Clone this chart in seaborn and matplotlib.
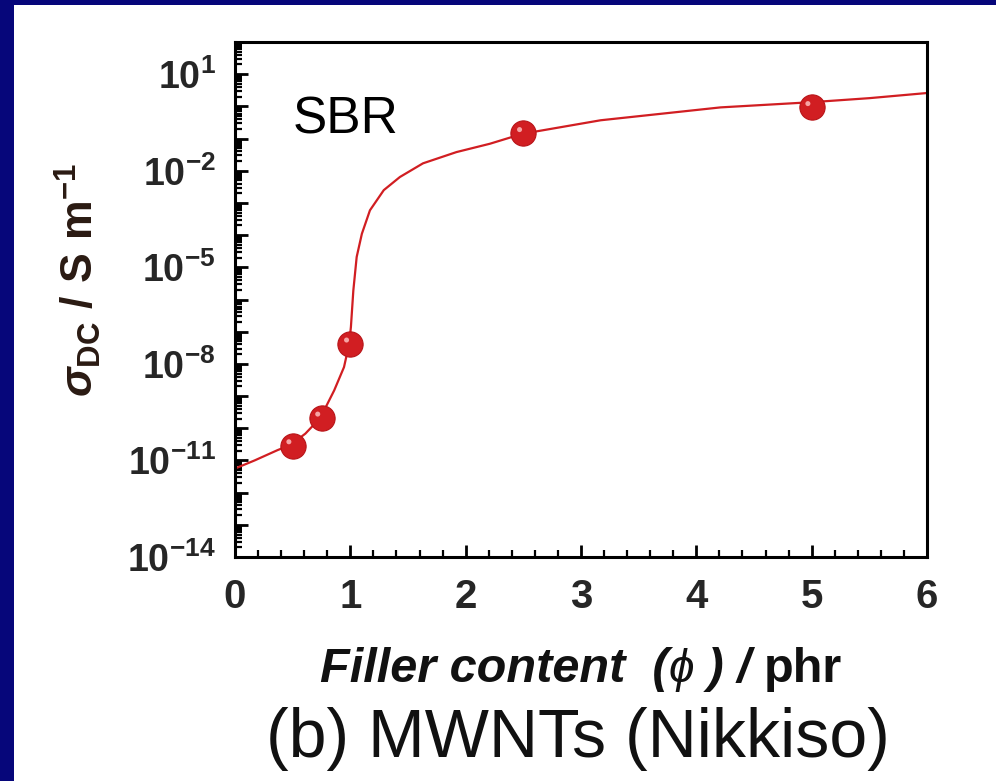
import matplotlib
matplotlib.use("Agg")
import matplotlib.pyplot as plt
import seaborn as sns
import pandas as pd
import numpy as np
from matplotlib.ticker import LogLocator, FuncFormatter, MultipleLocator, NullFormatter
from matplotlib.patches import Rectangle
from matplotlib.path import Path
from matplotlib.offsetbox import TextArea, HPacker, AnnotationBbox

# Dados
teor_pontos = [0.5, 0.75, 1.0, 2.5, 5.0]
sigma_pontos = [2.9e-11, 2.1e-10, 4.2e-8, 0.145, 0.93]

teor_curva = [0.0, 0.17, 0.37, 0.48, 0.61, 0.74, 0.86, 0.945, 0.99, 1.005,
              1.026, 1.055, 1.1, 1.17, 1.29, 1.43, 1.63, 1.92, 2.21, 2.49,
              3.17, 4.21, 5.0, 5.5, 6.0]
sigma_curva = [5.6e-12, 1.0e-11, 2.1e-11, 3.0e-11, 6.8e-11, 2.1e-10, 1.5e-9,
               7.9e-9, 4.2e-8, 1.4e-7, 1.9e-6, 2.1e-5, 1.1e-4, 5.9e-4, 2.5e-3,
               6.4e-3, 1.7e-2, 3.8e-2, 6.9e-2, 0.14, 0.37, 0.93, 1.35, 1.8, 2.6]

xticks = [0, 1, 2, 3, 4, 5, 6]

df_pontos = pd.DataFrame({"teor": teor_pontos, "sigma": sigma_pontos})
df_curva = pd.DataFrame({"teor": teor_curva, "sigma": sigma_curva})

sns.set_theme(style="ticks")
plt.rcParams["font.family"] = ["Liberation Sans", "DejaVu Sans"]
plt.rcParams["mathtext.fontset"] = "custom"
plt.rcParams["mathtext.rm"] = "Liberation Sans"
plt.rcParams["mathtext.it"] = "Liberation Sans:italic:bold"
plt.rcParams["mathtext.bf"] = "Liberation Sans:bold"

vermelho = "#d11e22"

fig = plt.figure(figsize=(9.96, 7.81), dpi=100, facecolor="#06067a")
# painel branco
fig.patches.append(Rectangle((14 / 996, 0), 1, 1 - 5 / 781, transform=fig.transFigure,
                             facecolor="white", edgecolor="none", zorder=-5))

ax = fig.add_axes([235 / 996, 1 - 557 / 781, (927 - 235) / 996, (557 - 42) / 781])
ax.set_zorder(1)
ax.set_facecolor("white")

sns.lineplot(data=df_curva, x="teor", y="sigma", ax=ax, color=vermelho, linewidth=1.6,
             sort=False, zorder=2)
tam = 330
sns.scatterplot(data=df_pontos, x="teor", y="sigma", ax=ax, color=vermelho, s=tam,
                edgecolor="#b81418", linewidth=0.8, zorder=3)
# brilho das esferas
brilho = Path.circle(center=(-0.6, 0.6), radius=0.4)
sns.scatterplot(data=df_pontos, x="teor", y="sigma", ax=ax, color="#f6a4a4", s=tam / 4,
                marker=brilho, edgecolor="none", zorder=4)

ax.set_yscale("log")
ax.set_xlim(0, 6)
ax.set_ylim(1e-14, 1e2)

ax.set_xticks(xticks)
ax.xaxis.set_minor_locator(MultipleLocator(0.2))
ax.yaxis.set_major_locator(LogLocator(base=10, numticks=40))
ax.yaxis.set_minor_locator(LogLocator(base=10, subs=np.arange(2, 10), numticks=40))
ax.yaxis.set_minor_formatter(NullFormatter())


def formata_y(v, pos):
    expo = int(round(np.log10(v)))
    if expo % 3 == 1:
        return r"$\mathbf{10^{%d}}$" % expo
    return ""


ax.yaxis.set_major_formatter(FuncFormatter(formata_y))

ax.tick_params(axis="both", which="major", direction="in", length=9, width=2,
               color="black", top=False, right=False)
ax.tick_params(axis="both", which="minor", direction="in", length=5, width=1.6,
               color="black", top=False, right=False)
ax.tick_params(axis="y", which="major", labelsize=27, pad=14)
ax.tick_params(axis="x", which="major", labelsize=29, pad=15)
for lbl in ax.get_xticklabels():
    lbl.set_fontweight("bold")

for s in ax.spines.values():
    s.set_linewidth(2.2)
    s.set_color("black")

ax.set_xlabel("")
ax.set_ylabel("")

# Textos
ax.text(293 / 996, 1 - 133 / 781, "SBR", transform=fig.transFigure, fontsize=37,
        color="black", ha="left", va="baseline")

cor_txt = "#111111"
partes = [
    TextArea("Filler content  (", textprops=dict(fontsize=35, style="italic", weight="bold", color=cor_txt)),
    TextArea("\u03d5", textprops=dict(fontsize=33, style="italic", weight="normal", color=cor_txt)),
    TextArea(" ) / ", textprops=dict(fontsize=35, style="italic", weight="bold", color=cor_txt)),
    TextArea("phr", textprops=dict(fontsize=35, weight="bold", color=cor_txt)),
]
caixa = HPacker(children=partes, align="baseline", pad=0, sep=0)
rotulo_x = AnnotationBbox(caixa, (581 / 996, 1 - 669 / 781), xycoords="figure fraction",
                          frameon=False, box_alignment=(0.5, 0.5), pad=0)
fig.add_artist(rotulo_x)

fig.text(578 / 996, 1 - 757 / 781, "(b) MWNTs (Nikkiso)", fontsize=49,
         ha="center", va="baseline", color=cor_txt)
fig.text(78 / 996, 1 - 280 / 781, r"$\sigma_{\mathbf{DC}}\mathbf{\ /\ S\ m^{-1}}$",
         fontsize=32, rotation=90, ha="center", va="center", color="#2a1a12")

plt.savefig("out.png", dpi=100, facecolor=fig.get_facecolor())
